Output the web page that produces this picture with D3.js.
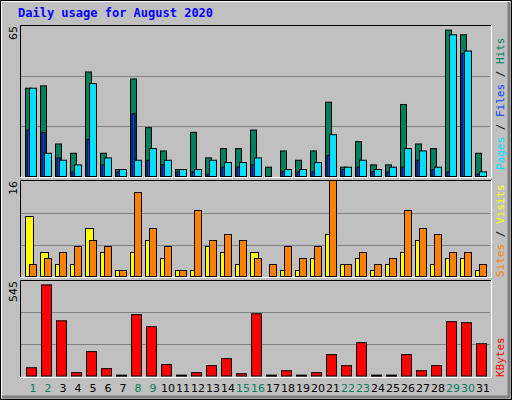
<!DOCTYPE html>
<html><head><meta charset="utf-8">
<script src="https://cdn.jsdelivr.net/npm/d3@7"></script>
<style>body{margin:0;background:#fff}</style></head>
<body><script>
const days = d3.range(1,32);
const weekend = [1,2,8,9,15,16,22,23,29,30];
const hits  = [38,39,14,10,45,10,3,42,21,11,3,19,8,12,12,20,4,11,7,11,32,4,15,5,5,31,14,12,63,61,10];
const files = [20,19,8,2,16,5,2,27,7,5,2,2,1,4,4,5,0,2,2,2,9,3,4,2,2,4,7,3,2,53,1];
const pages = [38,10,7,5,40,8,3,7,12,7,3,3,7,6,6,8,0,3,3,6,18,4,7,3,4,12,11,4,61,54,2];
const visits= [10,4,2,2,8,4,1,4,6,3,1,1,5,4,2,4,0,1,1,3,7,2,3,1,2,4,6,2,3,3,1];
const sites = [2,3,4,5,6,5,1,14,8,5,1,11,6,7,6,3,2,5,3,5,16,2,4,2,3,11,8,7,4,4,2];
const kbytes= [47,520,315,19,139,42,5,350,281,65,5,19,59,99,13,355,5,30,5,19,122,59,190,5,5,122,30,59,310,304,184];
const maxLabels = ["65","16","545"];

const W=512,H=400;
const svg=d3.select("body").append("svg").attr("width",W).attr("height",H);
svg.append("rect").attr("width",W).attr("height",H).attr("fill","#c0c0c0");
// bevel
svg.append("rect").attr("x",0.5).attr("y",0.5).attr("width",W-1).attr("height",H-1).attr("fill","none").attr("stroke","#000");
svg.append("path").attr("d",`M1.5,${H-2}V1.5H${W-2}`).attr("stroke","#fff").attr("stroke-width",1).attr("fill","none");
svg.append("path").attr("d",`M${W-3},2V${H-3}H2`).attr("stroke","#808080").attr("stroke-width",3).attr("fill","none");

svg.append("text").attr("x",18).attr("y",17).text("Daily usage for August 2020")
 .attr("font-family","DejaVu Sans Mono").attr("font-weight","bold").attr("font-size",12).attr("fill","#0000ff");

const x=d3.scaleLinear().domain([0,31]).range([25,490]);
const panels=[
 {top:25,bot:177,base:176.5,max:65,label:maxLabels[0]},
 {top:180,bot:277,base:276.5,max:16,label:maxLabels[1]},
 {top:280,bot:377,base:376,max:545,label:maxLabels[2]}];
panels.forEach(p=>{
  p.y=d3.scaleLinear().domain([0,p.max]).range([p.base,p.top+0.5]);
  [1/3,2/3].forEach(f=>svg.append("line").attr("x1",21).attr("x2",490).attr("y1",Math.round(p.y(p.max*f))+0.5).attr("y2",Math.round(p.y(p.max*f))+0.5).attr("stroke","#808080"));
  svg.append("path").attr("d",`M20.5,${p.bot}V${p.top+0.5}H491`).attr("stroke","#000").attr("fill","none");
  svg.append("path").attr("d",`M20,${p.bot+0.5}H491.5V${p.top}`).attr("stroke","#fff").attr("fill","none");
  svg.append("text").attr("transform",`translate(17,${p.top+1}) rotate(-90)`).attr("text-anchor","end")
   .attr("font-family","DejaVu Sans").attr("font-size",11).text(p.label);
});
function bars(data,p,dx,w,col){
  svg.append("g").selectAll("rect").data(data).join("rect")
   .filter(d=>d>0)
   .attr("x",(d,i)=>x(i)+dx+0.5).attr("width",w)
   .attr("y",d=>p.y(d)).attr("height",d=>Math.max(1,p.base-p.y(d)))
   .attr("fill",col).attr("stroke","#000").attr("stroke-width",1);
}
function bars2(data,p,dx,w,col){
  const g=svg.append("g");
  data.forEach((d,i)=>{ if(d>0) g.append("rect").attr("x",x(i)+dx+0.5).attr("width",w).attr("y",p.y(d)).attr("height",Math.max(1,p.base-p.y(d))).attr("fill",col).attr("stroke","#000");});
}
bars2(hits,panels[0],0,6,"#00805c");
bars2(files,panels[0],1.5,3,"#0040ff");
bars2(pages,panels[0],4,7,"#00e0ff");
bars2(visits,panels[1],0,8,"#ffff00");
bars2(sites,panels[1],4,7,"#ff8000");
bars2(kbytes,panels[2],1,10,"#ff0000");

svg.append("g").selectAll("text").data(days).join("text")
 .attr("x",(d,i)=>x(i)+8).attr("y",392).attr("text-anchor","middle")
 .attr("font-family","DejaVu Sans").attr("font-size",11)
 .attr("fill",d=>weekend.includes(d)?"#00805c":"#000").text(d=>d);

function vlabel(parts,yb){
  const t=svg.append("text").attr("transform",`translate(504,${yb}) rotate(-90)`)
   .attr("font-family","DejaVu Sans Mono").attr("font-size",11);
  parts.forEach(([s,c])=>t.append("tspan").attr("fill",c).text(s));
}
vlabel([["Pages","#00e0ff"],[" / ","#000"],["Files","#0040ff"],[" / ","#000"],["Hits","#00805c"]],170);
vlabel([["Sites","#ff8000"],[" / ","#000"],["Visits","#ffff00"]],277);
vlabel([["KBytes","#ff0000"]],377);
</script></body></html>
